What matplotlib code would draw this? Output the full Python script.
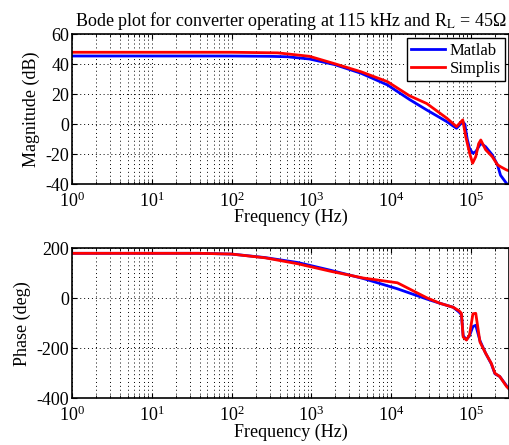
import matplotlib.pyplot as plt
from matplotlib.ticker import LogLocator, NullFormatter

plt.rcParams['font.family'] = 'Liberation Serif'
plt.rcParams['mathtext.fontset'] = 'stix'
plt.rcParams['axes.unicode_minus'] = False

# magnitude data (dB)
f_mag_matlab = [1, 100, 300, 500, 950, 1950, 4200, 9000, 17000, 28000, 50000, 66000,
                79000, 84000, 90000, 96000, 105000, 115000, 133000, 153000, 185000,
                215000, 235000, 280000, 300000]
mag_matlab = [45.5, 45.5, 45.3, 45, 43.5, 39.8, 34, 26.2, 16.5, 9.5, 1.7, -2.7,
              1.7, 0, -10, -16, -19.3, -18.3, -12.7, -15, -20.4,
              -27, -34, -39.5, -42]

f_mag_simplis = [1, 100, 380, 950, 1950, 4200, 9000, 17000, 28000, 50000, 66000,
                 79000, 86000, 96000, 105000, 115000, 125000, 133000, 153000, 185000,
                 215000, 235000, 280000, 300000]
mag_simplis = [48, 48, 47.6, 45.3, 40.4, 35, 28.4, 19, 13.8, 4, -1.6,
               2.9, -8, -19, -26, -21.6, -13, -10.5, -17, -21.6,
               -27, -28.3, -30.5, -31]

# phase data (deg)
f_ph = [1, 39, 100, 263, 680, 1750, 4500, 12000, 28000, 41000, 60000, 71000, 76000,
        80000, 88000, 96000, 106000, 115000, 130000, 153000, 180000, 200000, 230000,
        280000, 300000]
ph_matlab = [180, 180, 177, 163, 143, 112, 79, 38, -3, -20, -36, -55, -65,
             -150, -165, -150, -113, -108, -170, -220, -262, -302, -313, -350, -362]
ph_simplis = [180, 180, 177, 162, 138, 108, 81, 62, 2, -20, -36, -50, -60,
              -155, -167, -147, -62, -60, -175, -220, -260, -300, -313, -353, -362]

fig = plt.figure(figsize=(5.1, 4.45), dpi=100)
ax1 = fig.add_axes([0.141, 0.586, 0.857, 0.337])
ax2 = fig.add_axes([0.141, 0.105, 0.857, 0.337])

ax1.semilogx(f_mag_matlab, mag_matlab, color='blue', lw=2, label='Matlab')
ax1.semilogx(f_mag_simplis, mag_simplis, color='red', lw=2, label='Simplis')
ax2.semilogx(f_ph, ph_matlab, color='blue', lw=2)
ax2.semilogx(f_ph, ph_simplis, color='red', lw=2)

ax1.set_ylim(-40, 60)
ax1.set_yticks([-40, -20, 0, 20, 40, 60])
ax2.set_ylim(-400, 200)
ax2.set_yticks([-400, -200, 0, 200])

grid_style = dict(color='black', linestyle=(0, (1, 3)), lw=0.7)
for ax in (ax1, ax2):
    ax.set_xlim(1, 3e5)
    ax.xaxis.set_major_locator(LogLocator(base=10, numticks=10))
    ax.xaxis.set_minor_locator(LogLocator(base=10, subs=range(2, 10), numticks=20))
    ax.xaxis.set_minor_formatter(NullFormatter())
    ax.grid(True, which='major', **grid_style)
    ax.grid(True, which='minor', axis='x', **grid_style)
    ax.tick_params(which='both', direction='in', top=True, right=True, labelsize=13)
    ax.tick_params(axis='x', pad=5)
    ax.tick_params(axis='y', pad=2)
    for s in ax.spines.values():
        s.set_linewidth(1.2)
    ax.set_xlabel('Frequency (Hz)', fontsize=13, labelpad=-1)

ax1.set_ylabel('Magnitude (dB)', fontsize=13)
ax2.set_ylabel('Phase (deg)', fontsize=13)
ax1.set_title('Bode plot for converter operating at 115 kHz and R$_\\mathrm{L}$ = 45\u03a9',
              fontsize=13, pad=6)
ax1.legend(loc='upper right', fontsize=12, fancybox=False, edgecolor='black',
           framealpha=1, borderpad=0.25, labelspacing=0.15, handlelength=2.0,
           handletextpad=0.3, borderaxespad=0.25)

fig.savefig('out.png', dpi=100)
